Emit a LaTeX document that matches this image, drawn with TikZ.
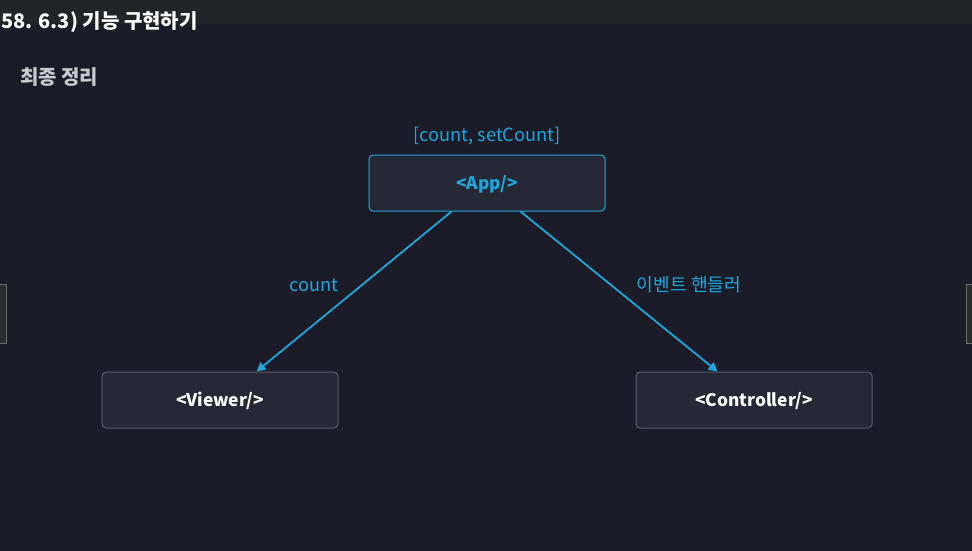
\documentclass[tikz,border=0pt]{standalone}
\usepackage{fontspec}
\setmainfont{Noto Sans CJK KR}
\usetikzlibrary{arrows.meta}
\definecolor{bgc}{HTML}{1B1C28}
\definecolor{barc}{HTML}{232428}
\definecolor{boxfill}{HTML}{262836}
\definecolor{cyanc}{HTML}{1FA6DC}
\definecolor{greyb}{HTML}{5A5C68}
\definecolor{headc}{HTML}{C9CACF}
\definecolor{sidefill}{HTML}{2B2C2C}
\definecolor{sideb}{HTML}{6C6C6C}
\tikzset{
  comp/.style={draw=greyb, line width=1pt, fill=boxfill, rounded corners=4pt, minimum width=236pt, minimum height=56pt, inner sep=0pt, text height=14pt, text depth=2pt, text=white, font=\fontsize{17.3}{20}\selectfont\bfseries},
  appcomp/.style={comp, draw=cyanc, text=cyanc},
  lbl/.style={text=cyanc, font=\fontsize{18.2}{21}\selectfont, inner sep=0pt},
  conn/.style={draw=cyanc, line width=1.8pt, -{Triangle[length=9pt,width=9pt]}},
  sidebtn/.style={draw=sideb, fill=sidefill, line width=1pt},
}
\begin{document}
\begin{tikzpicture}[x=1pt,y=-1pt]
\useasboundingbox (0,0) rectangle (972,551);
\fill[bgc] (0,0) rectangle (972,551);
\fill[barc] (0,0) rectangle (972,24);
\node[anchor=west, text=white, inner sep=0pt, font=\fontsize{20}{22}\selectfont\bfseries] (title) at (1,22) {58. 6.3) 기능 구현하기};
\node[anchor=west, text=headc, inner sep=0pt, font=\fontsize{20}{22}\selectfont\bfseries] (head) at (20,77) {최종 정리};
\node[appcomp] (app) at (487,183) {<App/>};
\node[lbl] (state) at (487,136) {[count, setCount]};
\node[comp] (viewer) at (220,400) {<Viewer/>};
\node[comp] (ctrl) at (754,400) {<Controller/>};
\draw[conn] ([xshift=83pt]app.south west) -- ([xshift=155pt]viewer.north west);
\draw[conn] ([xshift=152pt]app.south west) -- ([xshift=82pt]ctrl.north west);
\node[lbl] (lcount) at (314,285) {count};
\node[lbl] (lev) at (689,285) {이벤트 핸들러};
\draw[sidebtn] (-2,284) rectangle (6,343);
\draw[sidebtn] (966,284) rectangle (975,343);
\end{tikzpicture}
\end{document}
